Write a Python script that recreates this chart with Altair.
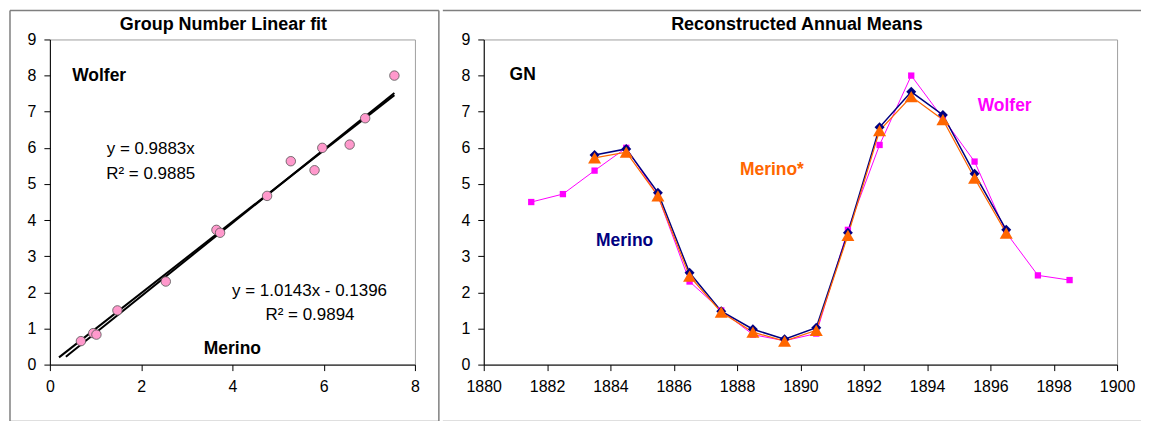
import altair as alt
import pandas as pd

FONT = "Liberation Sans"

# ---------------- data ----------------
# Left panel: annual means, Merino (x) vs Wolfer (y)
scatter_merino = [0.68, 0.95, 1.02, 1.48, 2.54, 3.65, 3.73, 4.76, 5.28, 5.80, 5.97, 6.57, 6.91, 7.55]
scatter_wolfer = [0.65, 0.87, 0.83, 1.50, 2.30, 3.73, 3.65, 4.67, 5.63, 5.38, 6.00, 6.09, 6.82, 8.00]

# Linear fits (end points of the drawn trend lines)
fit1_x = [0.2, 7.55]
fit1_y = [0.20, 7.46]   # y = 0.9883x
fit2_x = [0.35, 7.55]
fit2_y = [0.22, 7.52]   # y = 1.0143x - 0.1396

# Right panel: reconstructed annual means
years_wolfer = [1881.5, 1882.5, 1883.5, 1884.5, 1885.5, 1886.5, 1887.5, 1888.5, 1889.5,
                1890.5, 1891.5, 1892.5, 1893.5, 1894.5, 1895.5, 1896.5, 1897.5, 1898.5]
wolfer_gn = [4.50, 4.72, 5.37, 6.00, 4.67, 2.30, 1.50, 0.83, 0.66,
             0.86, 3.73, 6.08, 8.00, 6.82, 5.62, 3.65, 2.47, 2.34]

years_merino = [1883.5, 1884.5, 1885.5, 1886.5, 1887.5, 1888.5, 1889.5,
                1890.5, 1891.5, 1892.5, 1893.5, 1894.5, 1895.5, 1896.5]
merino_gn = [5.80, 5.97, 4.76, 2.54, 1.48, 0.98, 0.70, 1.02, 3.65, 6.57, 7.55, 6.91, 5.28, 3.73]
merino_star_gn = [5.72, 5.88, 4.67, 2.45, 1.45, 0.90, 0.65, 0.95, 3.58, 6.48, 7.42, 6.78, 5.16, 3.64]

# Annotations
left_bold_text = ["Wolfer", "Merino"]
left_bold_x = [1.08, 4.0]
left_bold_y = [8.0, 0.43]
left_eq_text = ["y = 0.9883x", "R² = 0.9885", "y = 1.0143x - 0.1396", "R² = 0.9894"]
left_eq_x = [2.21, 2.21, 5.69, 5.70]
left_eq_y = [5.98, 5.28, 2.05, 1.36]

right_text = ["GN", "Wolfer", "Merino*", "Merino"]
right_text_x = [1881.23, 1896.45, 1889.1, 1884.45]
right_text_y = [8.02, 7.15, 5.38, 3.43]
right_text_colors = ["#000000", "#FF00FF", "#FF6600", "#000080"]

left_title = "Group Number Linear fit"
right_title = "Reconstructed Annual Means"

# ---------------- helpers ----------------
one = pd.DataFrame({"k": [0]})
FRAME = "#7f7f7f"


def rule(**enc):
    return alt.Chart(one).mark_rule(color=FRAME, strokeWidth=1.5).encode(**enc)


def title_mark(text, x):
    return alt.Chart(one).mark_text(
        text=text, font=FONT, fontSize=18, fontWeight="bold", color="black",
        align="center", baseline="alphabetic"
    ).encode(x=alt.value(x), y=alt.value(-9))


# ---------------- left panel ----------------
LW, LH = 366, 326
lx = alt.X("x:Q", scale=alt.Scale(domain=[0, 8], nice=False),
           axis=alt.Axis(values=[0, 2, 4, 6, 8], title=None, labelFlush=False))
ly = alt.Y("y:Q", scale=alt.Scale(domain=[0, 9], nice=False),
           axis=alt.Axis(values=list(range(10)), title=None))

scatter_df = pd.DataFrame({"x": scatter_merino, "y": scatter_wolfer})
fit1_df = pd.DataFrame({"x": fit1_x, "y": fit1_y})
fit2_df = pd.DataFrame({"x": fit2_x, "y": fit2_y})

fit1 = alt.Chart(fit1_df).mark_line(color="black", strokeWidth=2).encode(x=lx, y=ly)
fit2 = alt.Chart(fit2_df).mark_line(color="black", strokeWidth=2).encode(x=lx, y=ly)
pts = alt.Chart(scatter_df).mark_point(
    shape="circle", filled=True, fill="#FF99CC", stroke="#555555", strokeWidth=0.8,
    size=90, opacity=1
).encode(x=lx, y=ly)

lb_df = pd.DataFrame({"x": left_bold_x, "y": left_bold_y, "t": left_bold_text})
le_df = pd.DataFrame({"x": left_eq_x, "y": left_eq_y, "t": left_eq_text})
lbold = alt.Chart(lb_df).mark_text(font=FONT, fontSize=17.5, fontWeight="bold", color="black",
                                   align="center", baseline="middle").encode(x=lx, y=ly, text="t:N")
leq = alt.Chart(le_df).mark_text(font=FONT, fontSize=17, color="black",
                                 align="center", baseline="middle").encode(x=lx, y=ly, text="t:N")

left = alt.layer(
    fit1, fit2, pts, lbold, leq,
    title_mark(left_title, 174),
    rule(x=alt.value(-40), x2=alt.value(390), y=alt.value(-29)),
    rule(x=alt.value(-40), y=alt.value(-29), y2=alt.value(383)),
    rule(x=alt.value(390), y=alt.value(-29), y2=alt.value(383)),
    rule(x=alt.value(-40), x2=alt.value(390), y=alt.value(383)),
).properties(width=LW, height=LH)

# ---------------- right panel ----------------
RW, RH = 635, 326
rx = alt.X("year:Q", scale=alt.Scale(domain=[1880, 1900], nice=False),
           axis=alt.Axis(values=list(range(1880, 1901, 2)), format="d", title=None, labelFlush=False))
ry = alt.Y("gn:Q", scale=alt.Scale(domain=[0, 9], nice=False),
           axis=alt.Axis(values=list(range(10)), title=None))

w_df = pd.DataFrame({"year": years_wolfer, "gn": wolfer_gn})
m_df = pd.DataFrame({"year": years_merino, "gn": merino_gn})
ms_df = pd.DataFrame({"year": years_merino, "gn": merino_star_gn})

w_line = alt.Chart(w_df).mark_line(color="#FF00FF", strokeWidth=1).encode(x=rx, y=ry)
w_pts = alt.Chart(w_df).mark_point(shape="square", filled=True, color="#FF00FF", size=40, opacity=1).encode(x=rx, y=ry)
m_line = alt.Chart(m_df).mark_line(color="#000080", strokeWidth=1.5).encode(x=rx, y=ry)
m_pts = alt.Chart(m_df).mark_point(shape="diamond", filled=True, color="#000080", size=100, opacity=1).encode(x=rx, y=ry)
ms_line = alt.Chart(ms_df).mark_line(color="#FF6600", strokeWidth=1.2).encode(x=rx, y=ry)
ms_pts = alt.Chart(ms_df).mark_point(shape="triangle-up", filled=True, color="#FF6600", size=170, opacity=1).encode(x=rx, y=ry)

rt_df = pd.DataFrame({"year": right_text_x, "gn": right_text_y, "t": right_text})
rtext = alt.Chart(rt_df).mark_text(font=FONT, fontSize=17.5, fontWeight="bold",
                                   align="center", baseline="middle").encode(
    x=rx, y=ry, text="t:N",
    color=alt.Color("t:N", scale=alt.Scale(domain=right_text, range=right_text_colors), legend=None),
)

right = alt.layer(
    w_line, m_line, ms_line, w_pts, m_pts, ms_pts, rtext,
    title_mark(right_title, 314),
    rule(x=alt.value(-41), x2=alt.value(659), y=alt.value(-29)),
    rule(x=alt.value(-41), x2=alt.value(659), y=alt.value(383)),
).properties(width=RW, height=RH)

chart = alt.hconcat(left, right, spacing=0).properties(
    padding={"left": 0, "top": 0, "right": 0, "bottom": 0},
    background="white",
).configure_axis(
    labelFont=FONT, labelFontSize=16, labelColor="black",
    domainColor="black", domainWidth=1, tickColor="black", tickSize=6,
    labelPadding=8, grid=False,
).configure_view(
    stroke="#a0a0a0", strokeWidth=1,
)

chart.save("out.html", embed_options={"renderer": "svg", "actions": False})
